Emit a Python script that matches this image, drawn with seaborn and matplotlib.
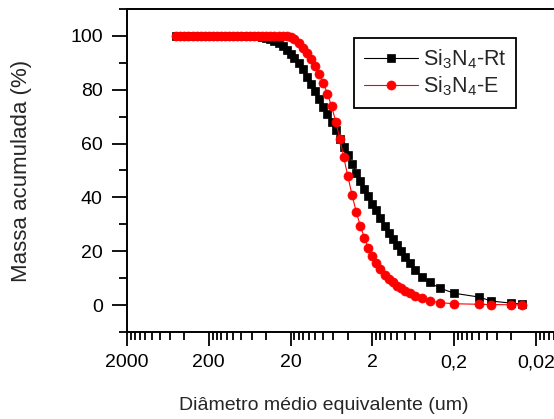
import matplotlib
matplotlib.use("Agg")
import matplotlib.pyplot as plt
import seaborn as sns
import pandas as pd
from matplotlib.ticker import FixedLocator, FixedFormatter, NullFormatter

# ---- data ----
diam = [500, 450, 400, 355, 315, 280, 250, 224, 200, 180, 160, 140, 125, 112,
        100, 90, 80, 71, 63, 56, 50, 45, 40, 36, 32, 28, 25, 22.4, 20, 18, 16,
        14, 12.5, 11.2, 10, 9, 8, 7.1, 6.3, 5.6, 5, 4.5, 4, 3.55, 3.15, 2.8,
        2.5, 2.24, 2.0, 1.8, 1.6, 1.4, 1.25, 1.12, 1.0, 0.9, 0.8, 0.7, 0.6,
        0.5, 0.4, 0.3, 0.2, 0.1, 0.07, 0.04, 0.03]

mass_rt = [100, 100, 100, 100, 100, 100, 100, 100, 100, 100, 100, 100, 100, 100,
           100, 100, 100, 100, 100, 100, 99.9, 99.6, 99.3, 98.8, 98.1, 97.2, 96.2,
           94.9, 93.2, 91.7, 90.1, 87.6, 84.8, 82.2, 79.4, 76.4, 73.7, 71.0, 68.0,
           65.0, 61.8, 58.9, 55.6, 52.4, 49.2, 46.0, 43.1, 40.4, 37.6, 35.2, 32.4,
           29.4, 26.9, 24.6, 22.2, 20.1, 17.9, 15.5, 13.0, 10.5, 8.4, 6.3, 4.4,
           3.0, 1.5, 0.7, 0.4]

mass_e = [100, 100, 100, 100, 100, 100, 100, 100, 100, 100, 100, 100, 100, 100,
          100, 100, 100, 100, 100, 100, 100, 100, 100, 100, 100, 100, 100,
          100, 99.7, 98.8, 97.3, 95.5, 93.5, 91.3, 88.8, 86.0, 82.6, 78.6, 73.8,
          68.2, 61.8, 55.2, 48.0, 41.0, 34.6, 29.3, 25.0, 21.3, 18.2, 15.8, 13.5,
          11.3, 9.7, 8.4, 7.2, 6.2, 5.3, 4.4, 3.4, 2.5, 1.6, 0.9, 0.5,
          0.3, 0.2, 0.1, 0.1]

series_labels = [r"Si$_3$N$_4$-Rt", r"Si$_3$N$_4$-E"]
x_major = [2000, 200, 20, 2, 0.2, 0.02]
x_major_labels = ["2000", "200", "20", "2", "0,2", "0,02"]
x_minor = [k * b for b in [0.002, 0.02, 0.2, 2, 20, 200] for k in range(2, 10)]
y_major = [0, 20, 40, 60, 80, 100]
y_minor = [-10, 10, 30, 50, 70, 90, 110]

# ---- style ----
sns.set_theme(style="ticks")
plt.rcParams["font.family"] = ["Liberation Sans", "DejaVu Sans"]
plt.rcParams["mathtext.fontset"] = "custom"
plt.rcParams["mathtext.rm"] = "Liberation Sans"
plt.rcParams["mathtext.it"] = "Liberation Sans"
plt.rcParams["mathtext.default"] = "rm"

df_rt = pd.DataFrame({"d": diam, "m": mass_rt})
df_e = pd.DataFrame({"d": diam, "m": mass_e})

fig = plt.figure(figsize=(5.54, 4.19), dpi=100)
ax = fig.add_axes([127 / 554, 1 - 332 / 419, 433.6 / 554, 323 / 419])

sns.lineplot(data=df_rt, x="d", y="m", ax=ax, color="black", marker="s",
             markersize=5.8, markeredgecolor="black", markeredgewidth=0.5,
             linewidth=0.8, estimator=None, sort=False, label=series_labels[0])
sns.lineplot(data=df_e, x="d", y="m", ax=ax, color="red", marker="o",
             markersize=6.5, markeredgecolor="red", markeredgewidth=0.5,
             linewidth=0.8, estimator=None, sort=False, label=series_labels[1])

ax.set_xscale("log")
ax.set_xlim(2000, 0.01)
ax.set_ylim(-10, 110)

ax.xaxis.set_major_locator(FixedLocator(x_major))
ax.xaxis.set_major_formatter(FixedFormatter(x_major_labels))
ax.xaxis.set_minor_locator(FixedLocator(x_minor))
ax.xaxis.set_minor_formatter(NullFormatter())
ax.yaxis.set_major_locator(FixedLocator(y_major))
ax.yaxis.set_minor_locator(FixedLocator(y_minor))
ax.yaxis.set_minor_formatter(NullFormatter())

for s in ax.spines.values():
    s.set_linewidth(1.4)
    s.set_color("black")

ax.tick_params(axis="x", which="major", direction="out", length=10,
               width=1.3, labelsize=14, colors="black", pad=6)
ax.tick_params(axis="x", which="minor", direction="out", length=5.8,
               width=1.3, colors="black")
ax.tick_params(axis="y", which="major", direction="out", length=10.5,
               width=1.3, labelsize=14, colors="black", pad=7)
ax.tick_params(axis="y", which="minor", direction="out", length=5.5,
               width=1.3, colors="black")
ax.tick_params(top=False, right=False, which="both")

ax.set_xlabel("")
ax.set_ylabel("")
fig.text(324 / 554, 1 - 405 / 419, "Diâmetro médio equivalente (um)",
         ha="center", va="center", fontsize=14)
fig.text(22 / 554, 1 - 171 / 419, "Massa acumulada (%)", rotation=90,
         ha="center", va="center", fontsize=16)

leg = ax.legend(loc="upper right", bbox_to_anchor=((516 - 127) / 433.6, 1 - (37.7 - 9) / 323),
                borderaxespad=0, frameon=True, fancybox=False, fontsize=15.5,
                handlelength=2.55, handletextpad=0.2, borderpad=0.45,
                labelspacing=0.15, framealpha=1)
leg.get_frame().set_edgecolor("black")
leg.get_frame().set_linewidth(1.3)

fig.savefig("out.png", dpi=100)
